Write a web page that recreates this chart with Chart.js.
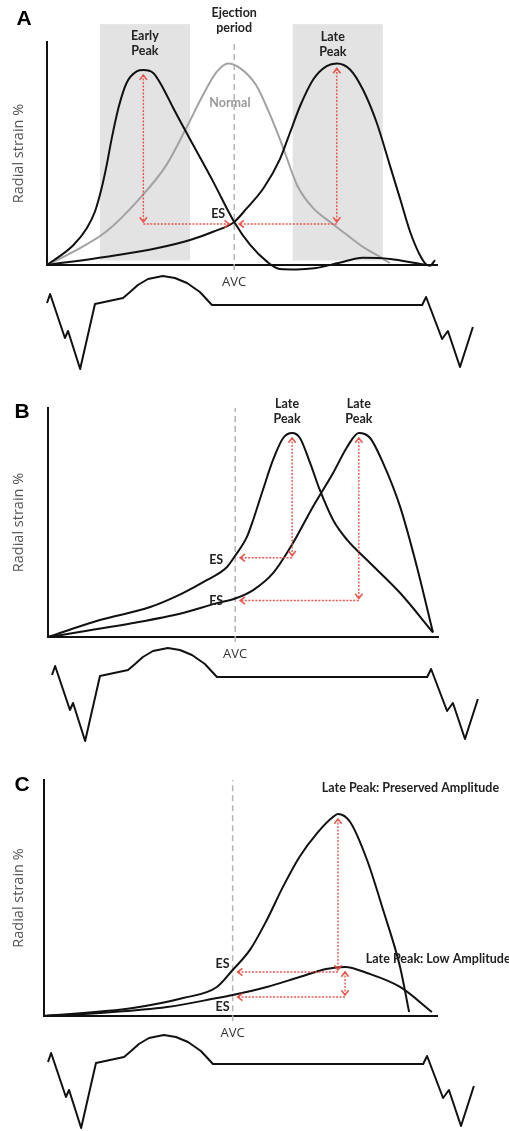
<!DOCTYPE html>
<html>
<head>
<meta charset="utf-8">
<title>Radial strain timing</title>
<script src="https://cdn.jsdelivr.net/npm/chart.js@4.4.1/dist/chart.umd.min.js"></script>
<style>
  html, body { margin: 0; padding: 0; background: #fff; overflow: hidden; }
  #page { position: relative; width: 509px; height: 1131px; }
  #page canvas { position: absolute; left: 0; }
</style>
</head>
<body>
<div id="page">
  <canvas id="strainA" width="509" height="300" style="top:0px"></canvas>
  <canvas id="ecgA" width="509" height="110" style="top:265px"></canvas>
  <canvas id="strainB" width="509" height="300" style="top:380px"></canvas>
  <canvas id="ecgB" width="509" height="110" style="top:637px"></canvas>
  <canvas id="strainC" width="509" height="300" style="top:760px"></canvas>
  <canvas id="ecgC" width="509" height="110" style="top:1024px"></canvas>
</div>
<script>
// time runs 0..100 across the beat, aortic valve closure (AVC) at 48
const avcTime = 48;

// Panel A: early peak, normal, late peak
const earlyX = [0, 6.8, 10.2, 12.3, 14, 15.3, 16.6, 18.3, 20.4, 23, 24.7, 27.3, 29.8, 32.4, 34.9, 38.4, 42.6, 48, 52.1, 56.4, 59.7, 64, 68.5, 75, 81, 88, 94.8, 97.4];
const earlyY = [0, 9, 16.5, 24, 34.4, 44.8, 56.8, 70.3, 81.6, 86.8, 87.4, 86, 79.2, 70.3, 62.1, 50.9, 37.4, 19.3, 9, 1.5, -1.8, -2, -1.5, 1, 3.2, 2.7, 0.8, 0];
const normalX = [0, 6.8, 15.2, 23.8, 30.6, 35.7, 40, 43.5, 46.5, 49.5, 53.6, 57.2, 60.3, 64.1, 68.2, 72.6, 76.9, 81, 85.4, 87.9];
const normalY = [0, 6, 15, 29.9, 44.8, 61.4, 76.2, 86.6, 90.4, 88.3, 80.7, 67.3, 53.8, 35.9, 25.6, 19.3, 13.5, 8.1, 3.6, 0.9];
const lateX = [0, 15.3, 28.1, 36.7, 42.6, 48, 51.2, 55.5, 59.7, 62.3, 64.9, 68.3, 71.7, 74.3, 77.7, 81, 84.5, 87.9, 90.5, 93.1, 95.6, 97.4, 98.2, 99.5];
const lateY = [0, 3.7, 7.5, 11.2, 14.9, 19.3, 25.4, 34.4, 47.4, 59.3, 71.3, 83.3, 89.2, 90.4, 87.7, 78.7, 64, 44.8, 29.9, 14.9, 4.5, 0, -0.3, 2.2];
const earlyWindow = [13.6, 36.7];
const lateWindow = [63, 86.1];

// Panel B: two late peaks
const b1X = [0, 13.3, 26.2, 34.6, 40.8, 45.9, 48, 51, 52.6, 55.1, 57.7, 60.3, 62.6, 64.6, 67.2, 69.7, 73.1, 76.7, 81.8, 90.3, 98.7];
const b1Y = [0, 7.4, 13.1, 19.2, 24.9, 30.6, 35.5, 43.7, 51.1, 64.2, 77.3, 86.9, 89.1, 86.9, 76, 64.2, 51.1, 42.4, 33.6, 19.2, 2];
const b2X = [0, 21.8, 34.6, 43.3, 48, 52.6, 57.7, 62.8, 67.9, 73.1, 76.7, 79.7, 82.6, 85.9, 90.3, 94.6, 98.7];
const b2Y = [0, 6.1, 10.5, 14.8, 16.8, 20.5, 27.9, 41, 56.8, 71.6, 83, 89.1, 86.9, 76, 56.8, 30.6, 2];

// Panel C: preserved vs low amplitude late peak
const cPresX = [0, 22.6, 35.4, 44, 48, 52.4, 56.7, 60.8, 65, 69.5, 73.5, 74.8, 77.9, 82.2, 86.3, 90.6, 92.9];
const cPresY = [0, 3.4, 7.6, 12.3, 19.5, 28, 40.7, 54.7, 67.4, 77.5, 84.3, 85.6, 82.2, 66.1, 44.9, 20.8, 1.7];
const cLowX = [0, 14.2, 31.3, 44, 48, 56.7, 65, 71.8, 76.6, 82.2, 90.6, 98.7];
const cLowY = [0, 1.3, 3.8, 7.6, 8.9, 12.3, 16.5, 19.9, 20.8, 18.2, 12.3, 1.7];

// ECG trace under each panel
const ecgX = [0, 0.8, 4.6, 5.4, 8.5, 12.3, 19.5, 21.3, 23.3, 25.9, 29.7, 32.8, 35.9, 39.2, 42.3, 96.2, 97.2, 101.3, 102.8, 105.9, 109.2];
const ecgY = [0.2, 1.1, -3.3, -2.6, -6.4, 0.1, 0.7, 1.3, 2.0, 2.6, 2.9, 2.7, 2.2, 1.3, 0, 0, 0.8, -3.4, -2.6, -6.2, -2.2];

const pts = (xs, ys) => xs.map((x, i) => ({ x: x, y: ys[i] }));

function valueAt(xs, ys, t) {
    for (let i = 1; i < xs.length; i++) {
        if (xs[i] >= t) {
            const f = (t - xs[i - 1]) / (xs[i] - xs[i - 1]);
            return ys[i - 1] + f * (ys[i] - ys[i - 1]);
        }
    }
    return ys[ys.length - 1];
}

function peakOf(xs, ys) {
    let k = 0;
    ys.forEach((v, i) => { if (v > ys[k]) k = i; });
    return { x: xs[k], y: ys[k] };
}

function curve(xs, ys, color, order) {
    return {
        data: pts(xs, ys),
        borderColor: color,
        borderWidth: 2,
        pointRadius: 0,
        cubicInterpolationMode: 'monotone',
        fill: false,
        clip: false,
        order: order || 0
    };
}

function avcLine() {
    return {
        data: [{ x: avcTime, y: -2.2 }, { x: avcTime, y: 100 }],
        borderColor: '#b4b4b4',
        borderWidth: 1.5,
        borderDash: [6, 4],
        pointRadius: 0,
        fill: false,
        clip: false,
        order: 3
    };
}

const RED = 'rgba(232, 70, 60, 0.9)';
const LABEL_FONT = 'bold 12.5px Lato, "Liberation Sans", sans-serif';

function chevron(ctx, x, y, angle) {
    // open arrow head pointing along angle
    const len = 6, spread = 0.65;
    ctx.save();
    ctx.setLineDash([]);
    ctx.lineWidth = 1.6;
    ctx.strokeStyle = RED;
    ctx.beginPath();
    ctx.moveTo(x - len * Math.cos(angle - spread), y - len * Math.sin(angle - spread));
    ctx.lineTo(x, y);
    ctx.lineTo(x - len * Math.cos(angle + spread), y - len * Math.sin(angle + spread));
    ctx.stroke();
    ctx.restore();
}

function dotted(ctx, x1, y1, x2, y2) {
    ctx.save();
    ctx.strokeStyle = RED;
    ctx.lineWidth = 1.4;
    ctx.setLineDash([2, 1.5]);
    ctx.beginPath();
    ctx.moveTo(x1, y1);
    ctx.lineTo(x2, y2);
    ctx.stroke();
    ctx.restore();
}

const panelDecor = {
    id: 'panelDecor',
    beforeDraw(chart, args, opts) {
        const { ctx, scales: { x, y } } = chart;
        (opts.bands || []).forEach(b => {
            const l = x.getPixelForValue(b.range[0]);
            const r = x.getPixelForValue(b.range[1]);
            const t = y.getPixelForValue(b.top);
            const bt = y.getPixelForValue(b.bottom);
            ctx.save();
            ctx.fillStyle = '#e3e3e3';
            ctx.fillRect(l, t, r - l, bt - t);
            ctx.restore();
        });
    },
    afterDatasetsDraw(chart, args, opts) {
        const { ctx, chartArea, scales: { x, y } } = chart;
        const avcPx = x.getPixelForValue(avcTime);

        // peak-to-ES arrows, all taken from the curves
        (opts.arrows || []).forEach(a => {
            const pk = peakOf(a.xs, a.ys);
            const es = valueAt(a.xs, a.ys, avcTime);
            const px = x.getPixelForValue(pk.x);
            const top = y.getPixelForValue(pk.y) + 5;
            const esPx = y.getPixelForValue(es);
            const hy = esPx + 2;
            dotted(ctx, px, top, px, esPx);
            chevron(ctx, px, top, -Math.PI / 2);
            chevron(ctx, px, esPx, Math.PI / 2);
            const dir = avcPx < px ? -1 : 1;
            const tip = avcPx - dir * 5;
            dotted(ctx, px, hy, tip, hy);
            chevron(ctx, tip, hy, dir < 0 ? Math.PI : 0);
        });

        ctx.save();
        ctx.textAlign = 'center';
        ctx.textBaseline = 'middle';

        // ES labels next to the end-systolic points
        ctx.font = LABEL_FONT;
        ctx.fillStyle = '#222';
        (opts.esLabels || []).forEach(e => {
            const es = valueAt(e.xs, e.ys, avcTime);
            ctx.fillText('ES', avcPx + e.dx, y.getPixelForValue(es) + e.dy);
        });

        // text labels
        (opts.labels || []).forEach(lb => {
            ctx.font = LABEL_FONT;
            ctx.fillStyle = lb.color || '#222';
            ctx.textAlign = lb.align || 'center';
            const px = x.getPixelForValue(lb.x);
            const py = y.getPixelForValue(lb.y);
            lb.lines.forEach((t, i) => ctx.fillText(t, px, py + i * 15));
        });

        // AVC under the time axis
        ctx.textAlign = 'center';
        ctx.font = '13px "Open Sans", "Liberation Sans", sans-serif';
        ctx.fillStyle = '#333';
        ctx.fillText('AVC', avcPx, chartArea.bottom + 17);

        // panel letter
        ctx.font = 'bold 21px "Liberation Sans", Arial, sans-serif';
        ctx.fillStyle = '#000';
        ctx.fillText(opts.letter, opts.letterAt[0], opts.letterAt[1]);
        ctx.restore();
    }
};

function strainChart(id, datasets, box, decor) {
    return new Chart(document.getElementById(id), {
        type: 'line',
        data: { datasets: datasets },
        options: {
            responsive: false,
            animation: false,
            events: [],
            layout: { padding: { top: box.top, bottom: box.bottom, right: box.right, left: 0 } },
            plugins: {
                legend: { display: false },
                tooltip: { enabled: false },
                panelDecor: decor
            },
            scales: {
                x: {
                    type: 'linear',
                    min: 0,
                    max: 100,
                    grid: { display: false },
                    ticks: { display: false },
                    border: { display: true, color: '#111', width: 2 },
                    afterFit: s => { s.height = 0; }
                },
                y: {
                    type: 'linear',
                    min: 0,
                    max: 100,
                    grid: { display: false },
                    ticks: { display: false },
                    border: { display: true, color: '#111', width: 2 },
                    title: {
                        display: true,
                        text: 'Radial strain %',
                        color: '#555',
                        font: { family: '"Open Sans", "Liberation Sans", sans-serif', size: 14.5 },
                        padding: { top: 10, bottom: 0 }
                    },
                    afterFit: s => { s.width = box.left; }
                }
            }
        },
        plugins: [panelDecor]
    });
}

function ecgChart(id, left) {
    return new Chart(document.getElementById(id), {
        type: 'line',
        data: {
            datasets: [{
                data: pts(ecgX, ecgY),
                borderColor: '#111',
                borderWidth: 2,
                borderJoinStyle: 'round',
                pointRadius: 0,
                tension: 0,
                fill: false,
                clip: false
            }]
        },
        options: {
            responsive: false,
            animation: false,
            events: [],
            layout: { padding: { left: left, right: 509 - left - 429, top: 0, bottom: 0 } },
            plugins: { legend: { display: false }, tooltip: { enabled: false } },
            scales: {
                x: { type: 'linear', display: false, min: 0, max: 110 },
                y: { type: 'linear', display: false, min: -7, max: 4 }
            }
        }
    });
}

// Panel A
strainChart('strainA', [
    avcLine(),
    curve(normalX, normalY, '#a2a2a2', 1),
    curve(earlyX, earlyY, '#111'),
    curve(lateX, lateY, '#111')
], { top: 42, bottom: 35, right: 72, left: 47 }, {
    letter: 'A',
    letterAt: [24, 19],
    bands: [
        { range: earlyWindow, top: 108, bottom: 2 },
        { range: lateWindow, top: 108, bottom: 2 }
    ],
    arrows: [{ xs: earlyX, ys: earlyY }, { xs: lateX, ys: lateY }],
    esLabels: [{ xs: earlyX, ys: earlyY, dx: -16, dy: -8 }],
    labels: [
        { lines: ['Ejection', 'period'], x: avcTime, y: 113 },
        { lines: ['Early', 'Peak'], x: 25.1, y: 102.7 },
        { lines: ['Late', 'Peak'], x: 73.3, y: 102.2 },
        { lines: ['Normal'], x: 46.9, y: 72.6, color: '#999' }
    ]
});
ecgChart('ecgA', 47);

// Panel B
strainChart('strainB', [
    avcLine(),
    curve(b1X, b1Y, '#111'),
    curve(b2X, b2Y, '#111')
], { top: 28, bottom: 43, right: 71, left: 48 }, {
    letter: 'B',
    letterAt: [22, 32],
    arrows: [{ xs: b1X, ys: b1Y }, { xs: b2X, ys: b2Y }],
    esLabels: [
        { xs: b1X, ys: b1Y, dx: -19, dy: 4 },
        { xs: b2X, ys: b2Y, dx: -19, dy: 2 }
    ],
    labels: [
        { lines: ['Late', 'Peak'], x: 61.3, y: 101.7 },
        { lines: ['Late', 'Peak'], x: 79.7, y: 101.7 }
    ]
});
ecgChart('ecgB', 52);

// Panel C
strainChart('strainC', [
    avcLine(),
    curve(cPresX, cPresY, '#111'),
    curve(cLowX, cLowY, '#111')
], { top: 20, bottom: 44, right: 72, left: 44 }, {
    letter: 'C',
    letterAt: [22, 25],
    arrows: [{ xs: cPresX, ys: cPresY }, { xs: cLowX, ys: cLowY }],
    esLabels: [
        { xs: cPresX, ys: cPresY, dx: -10, dy: -6 },
        { xs: cLowX, ys: cLowY, dx: -10, dy: 12 }
    ],
    labels: [
        { lines: ['Late Peak: Preserved Amplitude'], x: 70.7, y: 96.6, align: 'left' },
        { lines: ['Late Peak: Low Amplitude'], x: 81.9, y: 24.2, align: 'left' }
    ]
});
ecgChart('ecgC', 48);
</script>
</body>
</html>
